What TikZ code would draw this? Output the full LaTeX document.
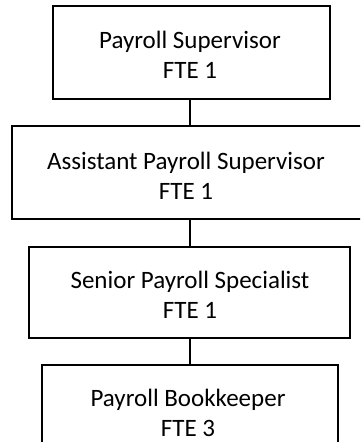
\documentclass[tikz,border=0pt]{standalone}
\usepackage{fontspec}
\setmainfont{Carlito}
\begin{document}
\begin{tikzpicture}[x=1pt,y=-1pt,
  box/.style={draw=black,line width=1.6pt,fill=white},
  lbl/.style={align=center,font=\fontsize{25}{30}\selectfont,inner sep=0pt},
  conn/.style={draw=black,line width=1.6pt}]
\useasboundingbox (0,0) rectangle (360,442);
\clip (0,0) rectangle (360,442);
% connectors
\coordinate (c1) at (190,99);
\coordinate (c2) at (190,126);
\coordinate (c3) at (190,219);
\coordinate (c4) at (190,247);
\coordinate (c5) at (190,338);
\coordinate (c6) at (190,365);
\draw[conn] (c1) -- (c2);
\draw[conn] (c3) -- (c4);
\draw[conn] (c5) -- (c6);
% boxes
\draw[box,line width=2.6pt] (53,6) rectangle (330,99);
\draw[box] (12,126) rectangle (362,219);
\draw[box] (29,247) rectangle (350,338);
\draw[box] (42,365) rectangle (338,460);
% labels
\node[lbl] (n1) at (190,55) {Payroll Supervisor\\FTE 1};
\node[lbl] (n2) at (186,176) {Assistant Payroll Supervisor\\FTE 1};
\node[lbl] (n3) at (190,295) {Senior Payroll Specialist\\FTE 1};
\node[lbl] (n4) at (188,413) {Payroll Bookkeeper\\FTE 3};
\end{tikzpicture}
\end{document}
